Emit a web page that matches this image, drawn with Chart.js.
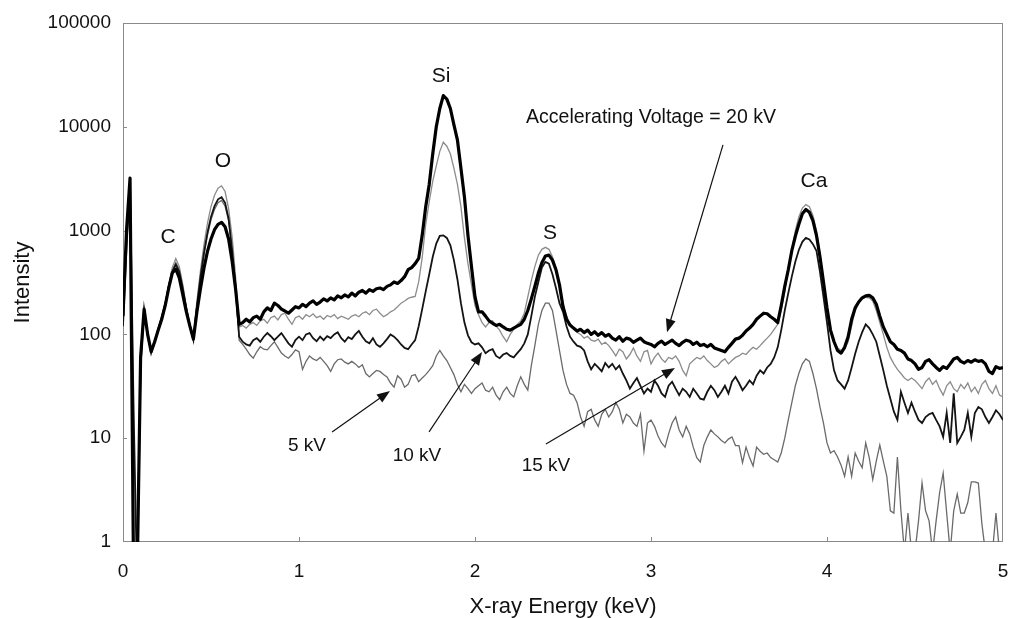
<!DOCTYPE html>
<html>
<head>
<meta charset="utf-8">
<title>X-ray spectra</title>
<script src="https://cdn.jsdelivr.net/npm/chart.js@4.4.1/dist/chart.umd.min.js"></script>
<style>
  html, body { margin: 0; padding: 0; background: #ffffff; }
  #wrap { width: 1009px; height: 618px; }
</style>
</head>
<body>
<div id="wrap"><canvas id="chart" width="1009" height="618"></canvas></div>
<script>
// Spectra, one value every 0.02 keV (0 .. 5 keV)
const energyStep = 0.02;

const kv20 = [
  150, 1000, 3200, 0.5, 0.4, 60, 175, 100, 68, 85, 110, 140, 190, 280, 390, 425, 350, 240, 165, 120, 90, 165, 275, 435, 630,
  830, 1020, 1150, 1200, 1090, 830, 510, 270, 125, 130, 140, 132, 145, 150, 140, 165, 180, 170, 200, 190, 175, 168, 160, 172, 185,
  180, 195, 185, 200, 210, 195, 205, 220, 210, 225, 215, 235, 225, 240, 230, 250, 235, 255, 265, 250, 270, 260, 275, 280, 270,
  290, 300, 320, 310, 330, 360, 420, 440, 480, 540, 900, 1700, 2800, 5500, 10000, 15000, 20000, 18500, 15000, 10500, 7500, 4000, 2100, 900, 450,
  230, 165, 165, 150, 135, 128, 122, 125, 118, 112, 110, 115, 120, 125, 140, 170, 220, 290, 390, 490, 570, 580, 520, 420, 300,
  185, 140, 123, 115, 108, 112, 104, 110, 100, 106, 98, 104, 96, 100, 92, 88, 95, 86, 92, 90, 84, 88, 92, 85, 82,
  80, 76, 82, 86, 80, 84, 88, 82, 78, 84, 88, 86, 80, 84, 78, 80, 76, 80, 74, 72, 70, 68, 75, 82, 90,
  92, 98, 108, 115, 125, 140, 150, 160, 158, 148, 140, 130, 190, 290, 420, 640, 880, 1150, 1450, 1600, 1500, 1250, 900, 560, 320,
  180, 110, 85, 70, 66, 75, 95, 140, 180, 205, 225, 235, 238, 225, 195, 150, 118, 100, 85, 80, 72, 70, 66, 58, 56,
  52, 46, 48, 55, 57, 52, 48, 45, 49, 47, 52, 58, 60, 55, 53, 56, 54, 57, 55, 56, 52, 44, 42, 49, 47,
  48
];

const kv15 = [
  150, 900, 3000, 0.5, 0.4, 55, 170, 105, 72, 88, 115, 150, 200, 300, 440, 540, 450, 300, 185, 125, 95, 210, 410, 730, 1180,
  1700, 2190, 2560, 2700, 2380, 1630, 870, 355, 118, 122, 115, 125, 130, 122, 135, 140, 128, 145, 150, 138, 155, 160, 140, 125, 145,
  150, 140, 155, 148, 158, 145, 150, 140, 152, 147, 155, 142, 150, 145, 140, 150, 155, 148, 160, 165, 155, 170, 175, 160, 148,
  155, 165, 172, 185, 200, 210, 222, 228, 232, 320, 550, 1150, 1900, 3000, 4200, 5800, 7100, 6500, 5500, 4000, 2800, 1700, 850, 480, 300,
  190, 155, 130, 118, 130, 135, 120, 110, 95, 85, 100, 112, 125, 135, 160, 230, 330, 450, 580, 660, 690, 660, 560, 440, 300,
  200, 150, 125, 112, 105, 100, 92, 96, 88, 86, 90, 80, 84, 78, 70, 62, 72, 68, 58, 64, 74, 62, 55, 68, 70,
  52, 60, 66, 58, 54, 60, 58, 62, 55, 45, 40, 52, 56, 60, 58, 62, 56, 52, 48, 50, 55, 58, 52, 56, 60,
  62, 66, 64, 70, 75, 72, 78, 85, 92, 100, 112, 125, 170, 260, 420, 650, 1000, 1350, 1650, 1780, 1700, 1400, 1000, 600, 320,
  180, 105, 85, 74, 70, 72, 85, 120, 170, 200, 220, 228, 225, 210, 170, 130, 100, 75, 60, 52, 46, 42, 38, 36, 38,
  36, 33, 30, 35, 38, 33, 36, 30, 26, 32, 35, 30, 28, 33, 30, 34, 28, 31, 27, 33, 36, 30, 27, 32, 26,
  25
];

const kv10 = [
  120, 700, 2800, 20, 0.4, 50, 175, 100, 66, 85, 112, 145, 195, 290, 400, 470, 400, 275, 175, 120, 88, 185, 355, 610, 960,
  1350, 1720, 2000, 2100, 1850, 1300, 650, 280, 95, 85, 80, 78, 88, 92, 85, 95, 103, 96, 88, 95, 103, 92, 82, 76, 88,
  95, 88, 100, 103, 92, 86, 95, 88, 96, 92, 100, 105, 92, 85, 94, 90, 100, 108, 95, 86, 82, 92, 80, 76, 82,
  90, 100, 95, 88, 80, 74, 72, 80, 88, 120, 175, 260, 380, 560, 750, 890, 900, 850, 720, 520, 340, 200, 130, 98, 84,
  80, 82, 75, 66, 70, 72, 62, 59, 64, 66, 62, 60, 66, 72, 82, 100, 150, 230, 320, 440, 500, 480, 380, 280, 200,
  165, 120, 95, 85, 78, 76, 70, 55, 46, 52, 48, 44, 53, 48, 52, 46, 50, 42, 36, 30, 34, 38, 32, 27, 30,
  28, 36, 32, 27, 25, 32, 35, 30, 26, 30, 28, 25, 30, 27, 24, 23.5, 28, 32, 29, 25, 28, 32, 27, 35, 39,
  34, 29, 32, 36, 33, 40, 45, 42, 48, 52, 60, 75, 110, 170, 250, 360, 500, 650, 780, 850, 820, 740, 640, 400, 230,
  130, 70, 45, 36, 33, 30, 36, 48, 65, 85, 105, 125, 115, 100, 85, 62, 45, 32, 24, 18, 15, 28, 22, 17.5, 22,
  18, 15, 14, 16, 17, 17.5, 15, 13, 10.3, 17.5, 9, 27, 9, 10.3, 12, 17.5, 10.3, 17.5, 20, 19, 16, 14, 16, 18.6, 17,
  15
];

const kv5 = [
  150, 900, 3000, 0.5, 0.4, 55, 170, 100, 70, 86, 112, 148, 200, 300, 420, 490, 420, 285, 180, 122, 90, 180, 340, 580, 900,
  1270, 1600, 1860, 1950, 1720, 1250, 630, 270, 88, 80, 72, 64, 59, 68, 76, 72, 71, 78, 85, 75, 66, 62, 59, 64, 71,
  68, 46, 55, 62, 58, 56, 60, 55, 50, 44, 52, 57, 58, 54, 52, 55, 52, 48, 51, 42, 39, 42, 45, 44, 41,
  39, 34, 31, 40, 37, 31, 33, 40, 41, 35, 38, 41, 45, 50, 62, 70, 62, 56, 48, 41, 33, 28, 33, 30, 27,
  30, 32, 34, 29, 28, 31, 26, 23.5, 28, 31, 27, 25, 32, 39, 33, 29, 50, 78, 125, 170, 200, 200, 170, 110, 70,
  45, 33, 27, 26, 22, 16, 13, 18, 19, 15, 13, 17, 19, 16, 18, 22, 19, 14, 17, 16, 14, 13, 17, 7.5, 14,
  15, 13, 10.5, 9, 8.2, 11, 14, 16, 12, 10.3, 13, 11, 8.2, 6.5, 5.9, 8.5, 10.3, 12, 11, 10.3, 9.5, 9, 9.8, 10.3, 8.5,
  8.5, 5.8, 8.2, 6.5, 5.4, 8.2, 7.5, 7, 7.2, 6.5, 6.2, 5.9, 7.2, 10, 15, 22, 32, 42, 52, 58, 55, 42, 30, 20, 14,
  9, 7.2, 7.6, 6.6, 5.5, 4.3, 6.6, 4.3, 7.2, 6, 5.2, 9, 6.5, 4, 6, 8.6, 6, 4.3, 2, 1.9, 6.6, 2, 0.8, 1.9, 0.8,
  0.8, 1.6, 3.7, 2, 1.6, 0.8, 1.6, 3, 4.6, 1.9, 0.8, 2, 2.9, 1.9, 1.9, 2.4, 3.8, 3.8, 3.7, 1.5, 0.8, 0.8, 0.8, 1.9, 0.8,
  0.7
];

const xTicks = [0, 1, 2, 3, 4, 5];
const yTicks = [1, 10, 100, 1000, 10000, 100000];

// Peak names, placed in data units (keV, counts)
const peakNames = ['C', 'O', 'Si', 'S', 'Ca'];
const peakAt = [[0.256, 870], [0.568, 4700], [1.807, 30800], [2.426, 950], [3.926, 3000]];

// Arrowed notes: label position, arrow tail and arrow tip, in data units
const noteTexts = ['Accelerating Voltage = 20 kV', '5 kV', '10 kV', '15 kV'];
const noteAt = [[3.0, 12200], [1.045, 8.4], [1.67, 6.7], [2.403, 5.4]];
const noteTail = [[3.409, 6690], [1.188, 11.5], [1.739, 11.5], [2.403, 8.8]];
const noteTip = [[3.091, 105], [1.517, 28.5], [2.04, 67.6], [3.136, 47.4]];

const fontFamily = "'Liberation Sans', Arial, Helvetica, sans-serif";

function toPoints(values) {
  return values.map((v, i) => ({ x: +(i * energyStep).toFixed(2), y: v }));
}

function drawArrow(ctx, x1, y1, x2, y2) {
  const ang = Math.atan2(y2 - y1, x2 - x1);
  const len = 13, half = 5;
  ctx.beginPath();
  ctx.moveTo(x1, y1);
  ctx.lineTo(x2 - Math.cos(ang) * len * 0.8, y2 - Math.sin(ang) * len * 0.8);
  ctx.stroke();
  ctx.beginPath();
  ctx.moveTo(x2, y2);
  ctx.lineTo(x2 - Math.cos(ang) * len - Math.sin(ang) * half, y2 - Math.sin(ang) * len + Math.cos(ang) * half);
  ctx.lineTo(x2 - Math.cos(ang) * len + Math.sin(ang) * half, y2 - Math.sin(ang) * len - Math.cos(ang) * half);
  ctx.closePath();
  ctx.fill();
}

// Frame, inner tick marks and annotations
const annotate = {
  id: 'annotate',
  beforeDatasetsDraw(chart) {
    const { ctx, chartArea: a, scales } = chart;
    ctx.save();
    ctx.strokeStyle = '#8a8a8a';
    ctx.lineWidth = 1;
    ctx.strokeRect(a.left + 0.5, a.top + 0.5, a.right - a.left - 1, a.bottom - a.top - 1);
    ctx.beginPath();
    xTicks.slice(1, -1).forEach(t => {
      const px = Math.round(scales.x.getPixelForValue(t)) + 0.5;
      ctx.moveTo(px, a.bottom);
      ctx.lineTo(px, a.bottom - 5);
    });
    yTicks.slice(1, -1).forEach(t => {
      const py = Math.round(scales.y.getPixelForValue(t)) + 0.5;
      ctx.moveTo(a.left, py);
      ctx.lineTo(a.left + 4, py);
    });
    ctx.stroke();
    ctx.restore();
  },
  afterDatasetsDraw(chart) {
    const { ctx, scales } = chart;
    const px = v => scales.x.getPixelForValue(v);
    const py = v => scales.y.getPixelForValue(v);
    ctx.save();
    ctx.fillStyle = '#111';
    ctx.strokeStyle = '#111';
    ctx.lineWidth = 1.2;
    ctx.textAlign = 'center';
    ctx.textBaseline = 'middle';

    ctx.font = '21px ' + fontFamily;
    peakNames.forEach((name, i) => {
      ctx.fillText(name, px(peakAt[i][0]), py(peakAt[i][1]));
    });

    noteTexts.forEach((txt, i) => {
      ctx.font = (i === 0 ? '19.5px ' : '19px ') + fontFamily;
      ctx.fillText(txt, px(noteAt[i][0]), py(noteAt[i][1]));
      drawArrow(ctx, px(noteTail[i][0]), py(noteTail[i][1]), px(noteTip[i][0]), py(noteTip[i][1]));
    });
    ctx.restore();
  }
};

new Chart(document.getElementById('chart'), {
  type: 'line',
  data: {
    datasets: [
      { label: '20 kV', data: toPoints(kv20), borderColor: '#000000', borderWidth: 3.2, borderJoinStyle: 'round' },
      { label: '10 kV', data: toPoints(kv10), borderColor: '#141414', borderWidth: 1.8 },
      { label: '15 kV', data: toPoints(kv15), borderColor: '#8c8c8c', borderWidth: 1.3 },
      { label: '5 kV', data: toPoints(kv5), borderColor: '#6a6a6a', borderWidth: 1.3 }
    ]
  },
  options: {
    responsive: false,
    devicePixelRatio: 1,
    animation: false,
    events: [],
    elements: {
      point: { radius: 0 },
      line: { tension: 0, fill: false }
    },
    layout: { padding: { top: 23, right: 6, left: 0, bottom: 0 } },
    plugins: {
      legend: { display: false },
      tooltip: { enabled: false }
    },
    scales: {
      x: {
        type: 'linear',
        min: 0,
        max: 5,
        afterBuildTicks: axis => { axis.ticks = xTicks.map(v => ({ value: v })); },
        afterFit: axis => {
          axis.height = 76;
          axis.paddingLeft = 0;
          axis.paddingRight = 0;
        },
        grid: { display: false, drawTicks: false },
        border: { display: false },
        ticks: {
          color: '#111',
          padding: 18,
          maxRotation: 0,
          font: { family: fontFamily, size: 19 }
        },
        title: {
          display: true,
          text: 'X-ray Energy (keV)',
          color: '#111',
          padding: { top: 0, bottom: 0 },
          font: { family: fontFamily, size: 22, lineHeight: 1 }
        }
      },
      y: {
        type: 'logarithmic',
        min: 1,
        max: 100000,
        afterBuildTicks: axis => { axis.ticks = yTicks.map(v => ({ value: v })); },
        afterFit: axis => {
          axis.width = 123;
          axis.paddingTop = 0;
          axis.paddingBottom = 0;
        },
        grid: { display: false, drawTicks: false },
        border: { display: false },
        ticks: {
          color: '#111',
          padding: 12,
          font: { family: fontFamily, size: 19 },
          callback: value => String(value)
        },
        title: {
          display: true,
          text: 'Intensity',
          color: '#111',
          padding: { top: 12, bottom: 0 },
          font: { family: fontFamily, size: 22, lineHeight: 1 }
        }
      }
    }
  },
  plugins: [annotate]
});
</script>
</body>
</html>
